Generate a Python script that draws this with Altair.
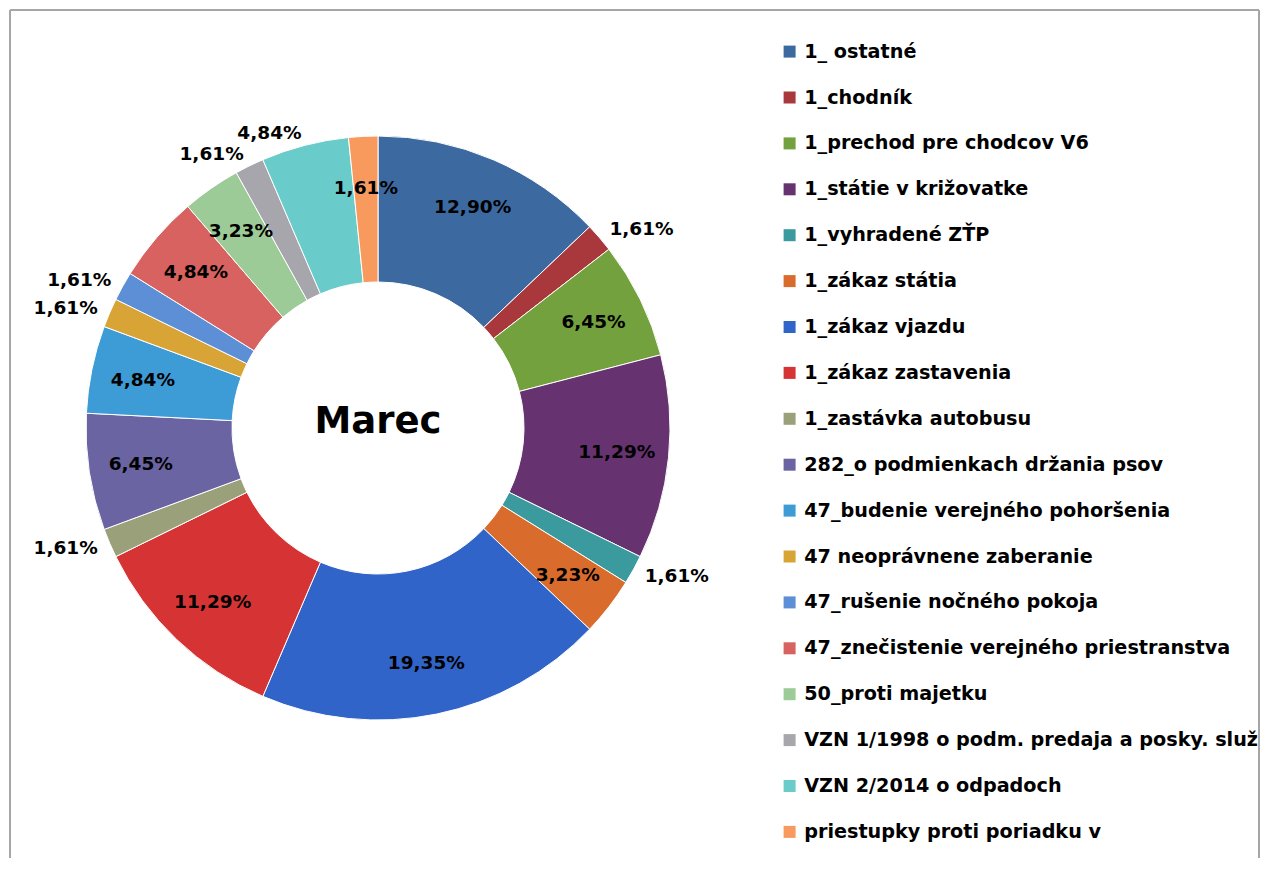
import altair as alt
import pandas as pd

categories = [
    "1_ ostatné",
    "1_chodník",
    "1_prechod pre chodcov V6",
    "1_státie v križovatke",
    "1_vyhradené ZŤP",
    "1_zákaz státia",
    "1_zákaz vjazdu",
    "1_zákaz zastavenia",
    "1_zastávka autobusu",
    "282_o podmienkach držania psov",
    "47_budenie verejného pohoršenia",
    "47 neoprávnene zaberanie",
    "47_rušenie nočného pokoja",
    "47_znečistenie verejného priestranstva",
    "50_proti majetku",
    "VZN 1/1998 o podm. predaja a posky. služ",
    "VZN 2/2014 o odpadoch",
    "priestupky proti poriadku v",
]
counts = [8, 1, 4, 7, 1, 2, 12, 7, 1, 4, 3, 1, 1, 3, 2, 1, 3, 1]
colors = [
    "#3C6AA0", "#A8383B", "#73A13E", "#673270", "#3A9A9E", "#D96C2C",
    "#3064C8", "#D63434", "#9AA17A", "#6A64A3", "#3D9CD6", "#D9A436",
    "#5C8FD6", "#D7625F", "#9CCB97", "#A6A6AC", "#6ACCCA", "#F89A5E",
]
outside_labels = [
    "1_chodník",
    "1_vyhradené ZŤP",
    "1_zastávka autobusu",
    "47 neoprávnene zaberanie",
    "47_rušenie nočného pokoja",
    "VZN 1/1998 o podm. predaja a posky. služ",
    "VZN 2/2014 o odpadoch",
]
center_title = "Marec"

total = sum(counts)
labels = [f"{c / total * 100:.2f}".replace(".", ",") + "%" for c in counts]

df = pd.DataFrame({
    "category": categories,
    "value": counts,
    "label": labels,
    "idx": list(range(len(categories))),
})

W, H = 1249, 848
CX, CY = 368, 418
R_IN, R_OUT = 146, 292
FONT = "DejaVu Sans"
BORDER = "#A6A6A6"

out_list = "[" + ",".join("'" + c.replace("'", "\\'") + "'" for c in outside_labels) + "]"
is_out = f"indexof({out_list}, datum.category) >= 0"

base = alt.Chart(df).transform_window(
    cum="sum(value)", sort=[alt.SortField("idx")]
).transform_joinaggregate(
    tot="sum(value)"
).transform_calculate(
    mid="(datum.cum - datum.value / 2) / datum.tot"
).encode(
    theta=alt.Theta("value:Q", stack=True),
    order=alt.Order("idx:Q"),
)

arcs = base.mark_arc(
    innerRadius=R_IN, outerRadius=R_OUT, stroke="white", strokeWidth=1
).encode(
    x=alt.value(CX),
    y=alt.value(CY),
    color=alt.Color(
        "category:N",
        sort=categories,
        scale=alt.Scale(domain=categories, range=colors),
        legend=alt.Legend(
            title=None,
            orient="none",
            legendX=770,
            legendY=32,
            symbolType="square",
            symbolSize=144,
            symbolStrokeWidth=0,
            labelFont=FONT,
            labelFontSize=19.2,
            labelFontWeight="bold",
            labelColor="#000000",
            labelLimit=600,
            labelOffset=5,
            rowPadding=25.9,
            padding=0,
        ),
    ),
)

text_style = dict(font=FONT, fontSize=18.5, fontWeight="bold", color="#000000")

inside_text = base.mark_text(radius=240, **text_style).transform_calculate(
    lbl=f"{is_out} ? '' : datum.label"
).encode(x=alt.value(CX), y=alt.value(CY), text="lbl:N")

outside_right = base.mark_text(radius=305, align="left", **text_style).transform_calculate(
    lbl=f"({is_out}) && datum.mid < 0.5 ? datum.label : ''"
).encode(x=alt.value(CX), y=alt.value(CY), text="lbl:N")

outside_left = base.mark_text(radius=305, align="right", **text_style).transform_calculate(
    lbl=f"({is_out}) && datum.mid >= 0.5 ? datum.label : ''"
).encode(x=alt.value(CX), y=alt.value(CY), text="lbl:N")

title_text = alt.Chart(alt.Data(values=[{"t": center_title}])).mark_text(
    font=FONT, fontSize=37, fontWeight="bold", color="#000000", baseline="alphabetic"
).encode(
    x=alt.value(CX),
    y=alt.value(CY + 5),
    text="t:N",
)

frame_top = alt.Chart(alt.Data(values=[{}])).mark_rule(
    color=BORDER, strokeWidth=2
).encode(x=alt.value(0), x2=alt.value(W), y=alt.value(0))
frame_left = alt.Chart(alt.Data(values=[{}])).mark_rule(
    color=BORDER, strokeWidth=2
).encode(x=alt.value(0), y=alt.value(0), y2=alt.value(H + 20))
frame_right = alt.Chart(alt.Data(values=[{}])).mark_rule(
    color=BORDER, strokeWidth=2
).encode(x=alt.value(W), y=alt.value(0), y2=alt.value(H + 20))

chart = alt.layer(
    arcs, inside_text, outside_right, outside_left, title_text,
    frame_top, frame_left, frame_right,
).properties(
    width=W,
    height=H,
    padding={"left": 2, "top": 2, "right": 1, "bottom": 0},
    autosize=alt.AutoSizeParams(type="none"),
    background="white",
).configure_view(
    stroke=None,
)

chart.save("out.html", embed_options={"renderer": "svg", "actions": False})
